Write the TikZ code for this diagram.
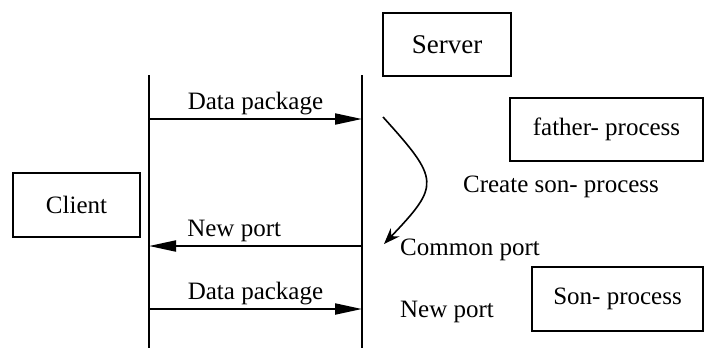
\documentclass[tikz,border=0pt]{standalone}
\usepackage{fontspec}
\setmainfont{Liberation Serif}
\newfontfamily\timesfont{Liberation Serif}
\usetikzlibrary{positioning,arrows.meta}

\tikzset{
    box/.style={draw, line width=1pt, inner sep=0pt, font=\timesfont\fontsize{12.5}{15}\selectfont},
    msg/.style={line width=1pt, -{Triangle[length=13.5pt, width=5.5pt]}},
    lbl/.style={font=\timesfont\fontsize{12.5}{15}\selectfont, inner sep=1.5pt}
}

\begin{document}
\begin{tikzpicture}[x=0.5pt, y=-0.5pt]
            \useasboundingbox (0,0) rectangle (706,350);
            \node[box, minimum width=63.5pt, minimum height=32pt] (client) at (76.5,205) {Client};
            \node[box, minimum width=64pt, minimum height=31.5pt, font=\timesfont\fontsize{13.5}{16}\selectfont] (server) at (447,44.5) {Server};
            \node[box, minimum width=96.5pt, minimum height=31.5pt] (father) at (606.5,129.5) {father- process};
            \node[box, minimum width=85.5pt, minimum height=32pt] (son) at (617.5,299) {Son- process};
            \foreach \n/\x in {cl/149, sv/362}{%
                    \coordinate (\n top) at (\x,75);
                    \coordinate (\n bot) at (\x,348);
                    \draw[line width=1pt] (\n top) -- (\n bot);
                }
            \foreach \i/\y in {1/119, 2/246, 3/309}{%
                    \coordinate (cl\i) at (149,\y);
                    \coordinate (sv\i) at (362,\y);
                }
            \draw[msg] (cl1) -- node[lbl, above] {Data package} (sv1);
            \draw[msg] (sv2) -- node[lbl, above, pos=0.6] {New port} (cl2);
            \draw[msg] (cl3) -- node[lbl, above] {Data package} (sv3);
            \coordinate (fork) at (383,117);
            \coordinate (common) at (384,244);
            \draw[line width=0.8pt, -{Stealth[length=8pt, width=6pt]}] (fork) .. controls (440,180) and (440,185) .. (common);
            \node[lbl] (create) at (561,187) {Create son- process};
            \node[lbl] (cport) at (470,250) {Common port};
            \node[lbl] (nport) at (447,312) {New port};
        \end{tikzpicture}
\end{document}
